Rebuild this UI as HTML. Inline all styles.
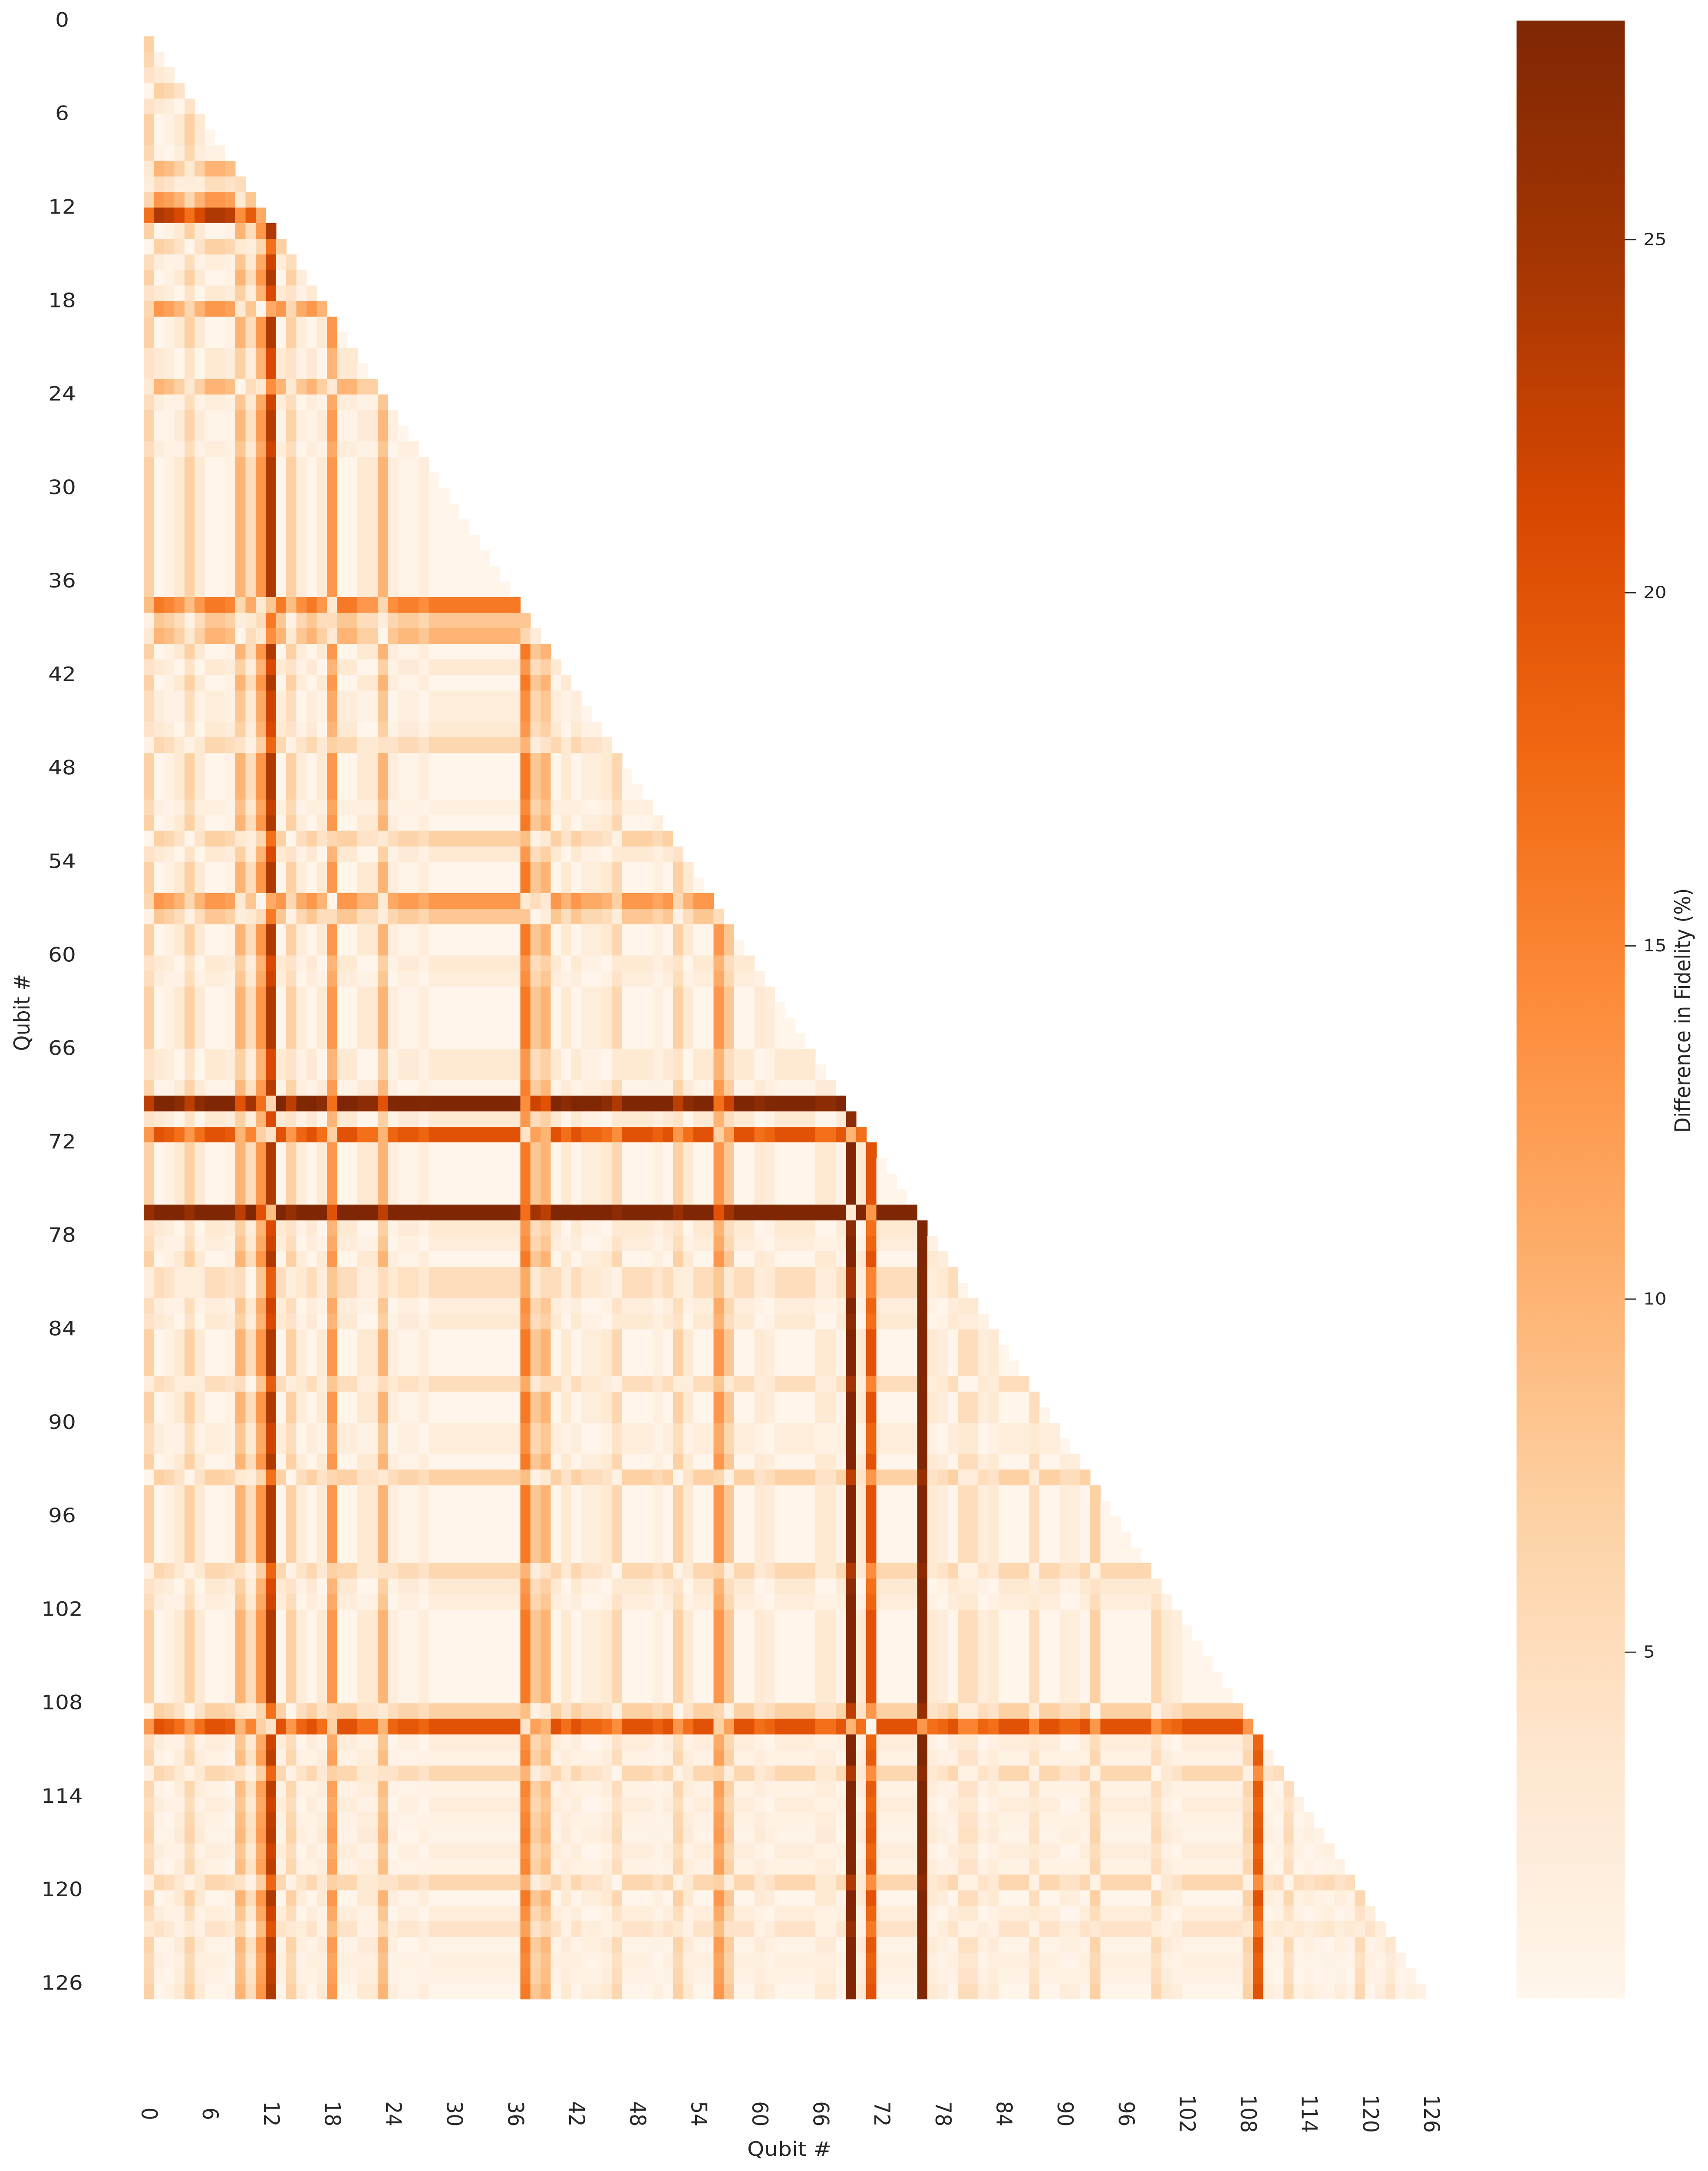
<!DOCTYPE html>
<html><head><meta charset="utf-8">
<style>
html,body{margin:0;padding:0;background:#fff;width:100%;height:100%;overflow:hidden;}
svg{display:block;position:fixed;left:0;top:0;width:100vw;height:100vh;font-family:"DejaVu Sans","Liberation Sans",sans-serif;}
</style></head>
<body>
<svg id="chart" viewBox="0 0 3934 5468" preserveAspectRatio="none" xmlns="http://www.w3.org/2000/svg">
<defs>
<linearGradient id="cbgrad" x1="0" y1="1" x2="0" y2="0">
<stop offset="0" stop-color="#fff5eb"/><stop offset="0.125" stop-color="#fee6ce"/><stop offset="0.25" stop-color="#fdd0a2"/><stop offset="0.375" stop-color="#fdae6b"/><stop offset="0.5" stop-color="#fd8d3c"/><stop offset="0.625" stop-color="#f16913"/><stop offset="0.75" stop-color="#d94801"/><stop offset="0.875" stop-color="#a63603"/><stop offset="1" stop-color="#7f2704"/>
</linearGradient>
</defs>
<g id="cells" shape-rendering="crispEdges"></g>
<g id="yticks"></g>
<g id="xticks"></g>
<text x="1818" y="5430" font-size="50" fill="#262626" text-anchor="middle">Qubit #</text>
<text transform="translate(68,2550) rotate(-90)" font-size="50" fill="#262626" text-anchor="middle">Qubit #</text>
<rect x="3493" y="52" width="249" height="4981" fill="url(#cbgrad)"/>
<g id="cbticks"></g>
<text transform="translate(3893,2545) rotate(-90)" font-size="50" fill="#262626" text-anchor="middle">Difference in Fidelity (%)</text>
</svg>
<script>
// Per-qubit fidelity offsets (%); cell value = |q[i] - q[j]|
const qubitValues = [8,1,2,4,8,4,1,1,2,11,6,14,25,1,8,3,1,4,14,1,1,4,4,11,3,1.5,1.5,3,1,1,
1,1,1,1,1,1,1,17,9,11,1,4,1,3,3,4,7,1,1,1,2.5,1,8,4,1,1,14,9,1,1,
4,3,1,1,1,1,4,4,1.5,31,4,21,1,1,1,1,34,4,3,1,6,6,3,4,1,1,1,6,1,1,
3,3,1,8,1,1,1,1,1,7,4,3,1,1,1,1,1,1,8,21,3,2,7,2,3,2,1.5,3,2,7,
1,3,5,1.5,2.5,2,1];
const yTickLabels = ["0","6","12","18","24","30","36","42","48","54","60","66","72","78","84","90","96","102","108","114","120","126"];
const xTickLabels = ["0","6","12","18","24","30","36","42","48","54","60","66","72","78","84","90","96","102","108","114","120","126"];
const cbTickValues = [5,10,15,20,25];

const NS = "http://www.w3.org/2000/svg";
const N = qubitValues.length;
const LEFT = 331, TOP = 52, CW = 23.44, RH = 39.24;
const VMIN = 0.1, VMAX = 28.1;
const CB_TOP = 52, CB_BOT = 5033;
const stops = ["#fff5eb","#fee6ce","#fdd0a2","#fdae6b","#fd8d3c","#f16913","#d94801","#a63603","#7f2704"].map(h=>[parseInt(h.slice(1,3),16),parseInt(h.slice(3,5),16),parseInt(h.slice(5,7),16)]);
function color(v){
  let t=(v-VMIN)/(VMAX-VMIN); t=Math.max(0,Math.min(1,t));
  const p=t*(stops.length-1); const k=Math.min(stops.length-2,Math.floor(p)); const f=p-k;
  const a=stops[k], b=stops[k+1];
  return "rgb("+a.map((c,ix)=>Math.round(c+(b[ix]-c)*f)).join(",")+")";
}
function xPos(j){return LEFT+j*CW;}
function yPos(i){return TOP+i*RH;}
function cbY(v){return CB_BOT-(v-VMIN)/(VMAX-VMIN)*(CB_BOT-CB_TOP);}

const cells=document.getElementById("cells");
for(let i=1;i<N;i++){
  for(let j=0;j<i;j++){
    const r=document.createElementNS(NS,"rect");
    r.setAttribute("x",xPos(j).toFixed(2));
    r.setAttribute("y",yPos(i).toFixed(2));
    r.setAttribute("width",(CW+0.6).toFixed(2));
    r.setAttribute("height",(i===N-1?RH:RH+0.6).toFixed(2));
    r.setAttribute("fill",color(Math.abs(qubitValues[i]-qubitValues[j])));
    
    
    cells.appendChild(r);
  }
}
const yt=document.getElementById("yticks");
yTickLabels.forEach(lab=>{
  const i=parseInt(lab,10);
  const t=document.createElementNS(NS,"text");
  t.setAttribute("x","143");
  t.setAttribute("y",(yPos(i)-1).toFixed(1));
  t.setAttribute("font-size","50");
  t.setAttribute("fill","#262626");
  t.setAttribute("text-anchor","middle");
  t.setAttribute("dominant-baseline","central");
  t.textContent=lab;
  
  
  yt.appendChild(t);
});
const xt=document.getElementById("xticks");
xTickLabels.forEach(lab=>{
  const j=parseInt(lab,10);
  const cx=xPos(j)+CW/2;
  const t=document.createElementNS(NS,"text");
  t.setAttribute("transform","translate("+cx.toFixed(1)+",5324) rotate(90)");
  t.setAttribute("font-size","50");
  t.setAttribute("fill","#262626");
  t.setAttribute("text-anchor","middle");
  t.setAttribute("dominant-baseline","central");
  t.textContent=lab;
  
  
  xt.appendChild(t);
});
const cbt=document.getElementById("cbticks");
cbTickValues.forEach(v=>{
  const y=cbY(v);
  const l=document.createElementNS(NS,"line");
  l.setAttribute("x1","3742");l.setAttribute("x2","3768");
  l.setAttribute("y1",y.toFixed(1));l.setAttribute("y2",y.toFixed(1));
  l.setAttribute("stroke","#262626");l.setAttribute("stroke-width","3");
  
  
  cbt.appendChild(l);
  const t=document.createElementNS(NS,"text");
  t.setAttribute("x","3785");
  t.setAttribute("y",y.toFixed(1));
  t.setAttribute("font-size","42");
  t.setAttribute("fill","#262626");
  t.setAttribute("dominant-baseline","central");
  t.textContent=String(v);
  
  
  cbt.appendChild(t);
});
</script>
</body></html>
